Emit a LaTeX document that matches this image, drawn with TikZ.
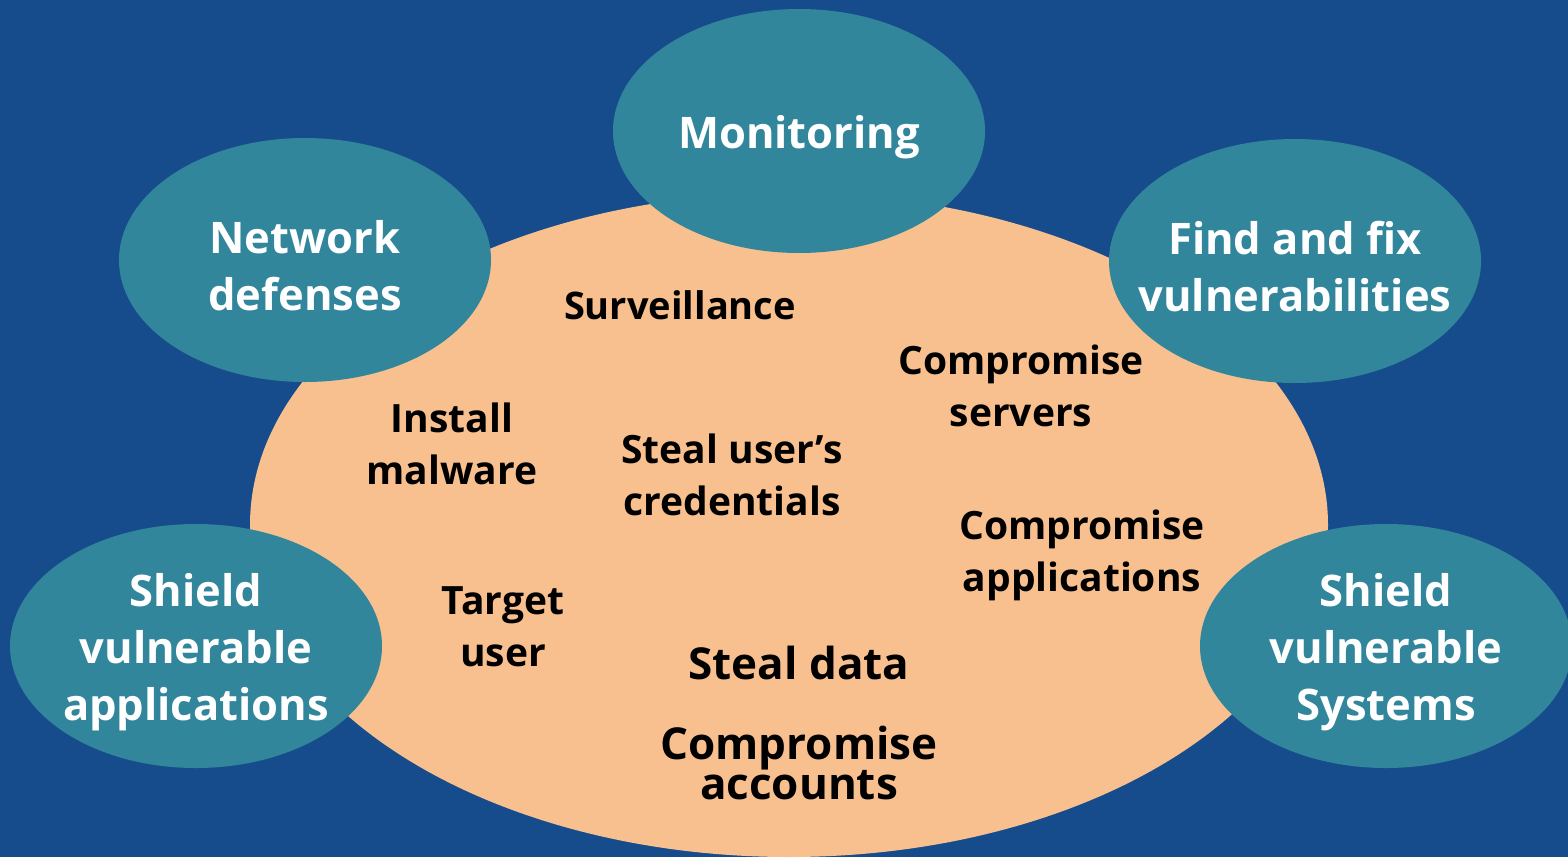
\documentclass[tikz,border=0pt]{standalone}
\usepackage{fontspec}
\setmainfont{Open Sans}
\usetikzlibrary{shapes.geometric}
\definecolor{bgblue}{HTML}{174C8C}
\definecolor{tealc}{HTML}{32869C}
\definecolor{peach}{HTML}{F9C08F}
\tikzset{
  outer/.style={ellipse, fill=tealc, inner sep=0pt, minimum width=372pt, minimum height=244pt},
  otext/.style={text=white, align=center, inner sep=0pt, yshift=-6pt, font=\bfseries\fontsize{43.5}{57}\selectfont},
  inner/.style={text=black, align=center, inner sep=0pt, font=\bfseries\fontsize{39}{52}\selectfont},
  big/.style={text=black, align=center, inner sep=0pt, font=\bfseries\fontsize{44}{40}\selectfont}
}
\begin{document}
\begin{tikzpicture}[x=1pt,y=-1pt]
\fill[bgblue] (0,0) rectangle (1568,857);
\useasboundingbox (0,0) rectangle (1568,857);
\fill[peach] (789,525) ellipse [x radius=539, y radius=332];
\node[outer] (mon) at (799,131) {};
\node[outer] (net) at (305,260) {};
\node[outer] (fix) at (1295,261) {};
\node[outer] (sapp) at (196,646) {};
\node[outer] (ssys) at (1386,646) {};
\node[otext] (tmon) at (mon) {Monitoring};
\node[otext] (tnet) at (net) {Network\\defenses};
\node[otext] (tfix) at (fix) {Find and fix\\vulnerabilities};
\node[otext] (tsapp) at (sapp) {Shield\\vulnerable\\applications};
\node[otext] (tssys) at (ssys) {Shield\\vulnerable\\Systems};
\node[inner, font=\bfseries\fontsize{38}{52}\selectfont] (surv) at (680,305) {Surveillance};
\node[inner] (mal) at (452,444) {Install\\malware};
\node[inner] (cred) at (732,475) {Steal user’s\\credentials};
\node[inner] (serv) at (1021,386) {Compromise\\servers};
\node[inner] (capp) at (1082,555) {Compromise\\applications};
\node[inner] (tgt) at (503,627) {Target\\user};
\node[big] (data) at (799,663) {Steal data};
\node[big] (acc) at (799,763) {Compromise\\accounts};
\end{tikzpicture}
\end{document}
